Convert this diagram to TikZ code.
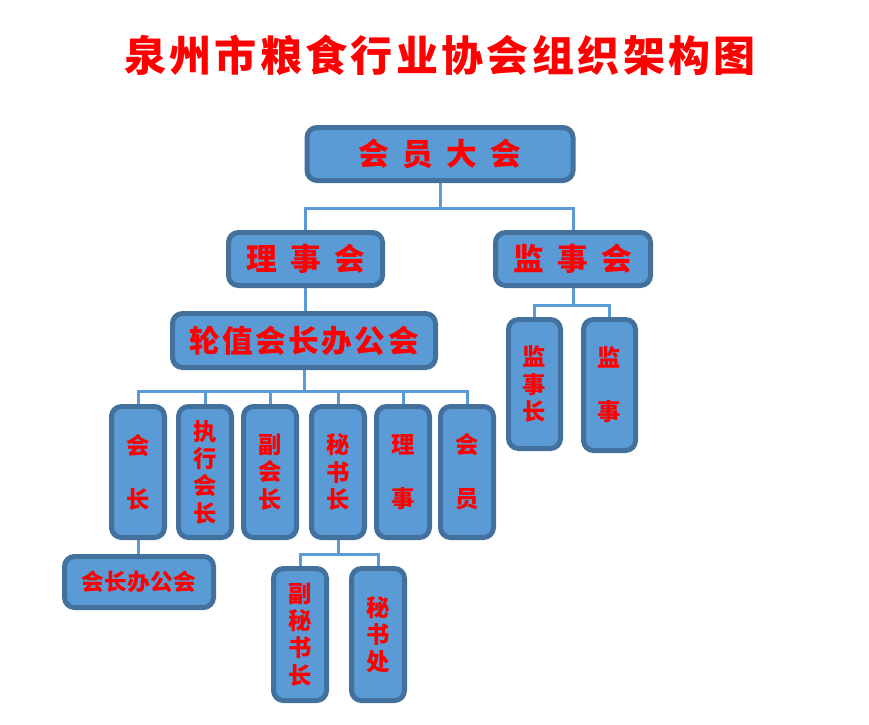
\documentclass[tikz,border=0pt]{standalone}
\usepackage{fontspec}
\usetikzlibrary{backgrounds}
\newfontfamily\cjk{Noto Sans CJK SC}
\definecolor{boxfill}{HTML}{5B9BD5}
\definecolor{boxline}{HTML}{41719C}
\definecolor{linkblue}{HTML}{5B9BD5}
\newcommand\hfont[2]{\fontsize{#1}{#1}\selectfont\addfontfeature{LetterSpace=#2}}

\begin{document}
\begin{tikzpicture}[x=0.75pt,y=-0.75pt,
    every node/.style={font=\cjk\bfseries,text=red},
    orgbox/.style={draw=boxline,fill=boxfill,line width=3.75pt,rounded corners=7.5pt,inner sep=0pt},
    wbox/.style={orgbox,minimum width=115.5pt,minimum height=39.75pt},
    vbox/.style={orgbox,minimum width=39.75pt,minimum height=98.25pt,align=center,
        font=\cjk\bfseries\fontsize{17.5}{20.5}\selectfont},
    link/.style={draw=linkblue,line width=2.25pt}]
    \useasboundingbox (0,0) rectangle (869,725);
    % title
    \node (title) at (440,55) {\hfont{31.5}{8}泉州市粮食行业协会组织架构图};
    % upper levels
    \node[orgbox,minimum width=199.5pt,minimum height=39.75pt] (hy) at (440,154)
        {\hfont{23}{43}会员大会};
    \node[wbox] (lsh) at (305.5,259) {\hfont{23}{43}理事会};
    \node[wbox,minimum width=116.25pt] (jsh) at (573,259) {\hfont{23}{43}监事会};
    \node[orgbox,minimum width=197.25pt,minimum height=40.5pt] (lz) at (304,340.5)
        {\hfont{23}{8}轮值会长办公会};
    % supervisors
    \node[vbox,minimum width=39pt,minimum height=96.75pt] (jsz) at (534.5,384) {监\\事\\长};
    \node[vbox,minimum width=39pt,minimum height=98.25pt] (js) at (609.5,385) {监\\[20pt]事};
    % council row
    \node[vbox] (hz) at (138,472) {会\\[20pt]长};
    \node[vbox] (zx) at (205,472) {执\\行\\会\\长};
    \node[vbox] (fh) at (270,472) {副\\会\\长};
    \node[vbox] (ms) at (338,472) {秘\\书\\长};
    \node[vbox] (ls) at (403,472) {理\\[20pt]事};
    \node[vbox] (hyu) at (467,472) {会\\[20pt]员};
    % bottom
    \node[wbox,minimum width=111.75pt,minimum height=38.25pt] (hb) at (139,582)
        {\hfont{17}{2}会长办公会};
    \node[vbox,minimum height=99pt] (fms) at (300,634.5) {副\\秘\\书\\长};
    \node[vbox,minimum height=99pt] (msc) at (378,634.5) {秘\\书\\处};
    % connectors
    \begin{scope}[on background layer]
        \fill[white] (0,0) rectangle (869,725);
        \draw[link] (hy.south) -- ++(0,25.5) coordinate (b1);
        \draw[link] (b1) -| (lsh.north);
        \draw[link] (b1) -| (jsh.north);
        \draw[link] (lsh.south) -- (lsh.south |- lz.north);
        \draw[link] (jsh.south) -- ++(0,17.5) coordinate (b2);
        \draw[link] (b2) -| (jsz.north);
        \draw[link] (b2) -| (js.north);
        \draw[link] (lz.south) -- ++(0,21.5) coordinate (b3);
        \foreach \n in {hz,zx,fh,ms,ls,hyu}
            \draw[link] (b3) -| (\n.north);
        \draw[link] (hz.south) -- (hz.south |- hb.north);
        \draw[link] (ms.south) -- ++(0,14.5) coordinate (b4);
        \draw[link] (b4) -| (fms.north);
        \draw[link] (b4) -| (msc.north);
    \end{scope}
\end{tikzpicture}
\end{document}
